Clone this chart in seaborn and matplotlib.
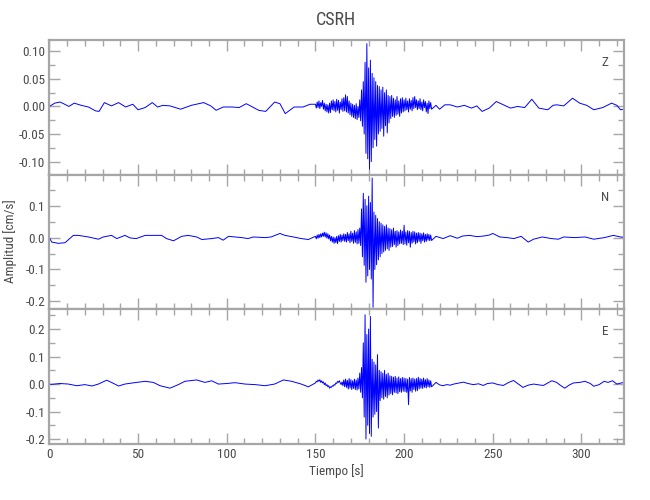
import numpy as np
import pandas as pd
import matplotlib
matplotlib.use("Agg")
import matplotlib.pyplot as plt
import seaborn as sns
from matplotlib.ticker import MultipleLocator
from matplotlib import font_manager

sns.set_style("white")
_names = {f.name for f in font_manager.fontManager.ttflist}
_fam = [f for f in ['Liberation Sans Narrow', 'DejaVu Sans Condensed', 'Roboto Condensed'] if f in _names]
plt.rcParams['font.family'] = _fam + ['DejaVu Sans']

# ---------------- data ----------------
title = "CSRH"
components = ["Z", "N", "E"]
xlabel = "Tiempo [s]"
ylabel = "Amplitud [cm/s]"

# strong-motion section: samples every 0.5 s starting at 150 s
burst_start = 150.0
burst_step = 0.5

# Z component
z_pre_t = [0, 3, 6, 8, 11, 14, 18, 22, 26, 28, 31, 35, 39, 43, 47, 50, 54, 58, 61, 64, 68, 74, 80, 87, 91,
           94, 98, 103, 107, 111, 114, 118, 122, 127, 130, 133, 138, 143, 147]
z_pre_v = [0.000, 0.006, 0.008, 0.005, 0.000, 0.006, 0.002, -0.001, -0.008, -0.009, 0.007, 0.001, 0.007,
           -0.001, 0.004, -0.006, -0.002, 0.007, -0.001, 0.002, 0.001, -0.005, 0.002, 0.007, 0.001,
           -0.007, -0.001, -0.001, -0.002, 0.005, 0.000, -0.007, -0.009, 0.008, 0.005, -0.013, -0.001,
           -0.001, 0.004]
z_burst = [0.004, -0.003, 0.008, -0.002, 0.010, -0.004, 0.007, 0.000, 0.011, -0.005, 0.006, -0.008, 0.004, -0.010, 0.003, -0.012,
           0.006, -0.011, 0.010, -0.006, 0.012, -0.008, 0.009, -0.010, 0.013, -0.007, 0.011, -0.012, 0.008, -0.006, 0.014, -0.009,
           0.016, -0.008, 0.021, -0.010, 0.018, -0.012, 0.010, -0.015, 0.006, -0.018, 0.004, -0.020,
           0.002, -0.022, 0.005, -0.024, 0.000, -0.020, 0.012, -0.026,
           0.030, -0.036, 0.045, -0.050,
           0.080, -0.085, 0.114, -0.095, 0.070, -0.114, 0.084, -0.100,
           0.060, -0.075, 0.052, -0.060, 0.045, -0.072, 0.038, -0.050,
           0.036, -0.045, 0.030, -0.040, 0.035, -0.054, 0.025, -0.035, 0.030, -0.048, 0.020, -0.030,
           0.018, -0.022, 0.020, -0.018, 0.015, -0.020, 0.012, -0.016, 0.018, -0.014, 0.010, -0.018, 0.014, -0.012, 0.016, -0.010,
           0.012, -0.008, 0.015, -0.006, 0.010, -0.010, 0.014, -0.005, 0.011, -0.008, 0.016, -0.004, 0.018, -0.002, 0.012, -0.006,
           0.010, -0.004, 0.014, -0.006, 0.008, -0.008, 0.012, -0.002, 0.009, -0.010, 0.006, -0.013, 0.010, -0.004, 0.007, -0.005]
z_post_t = [218, 220, 223, 226, 230, 234, 238, 241, 244, 248, 252, 256, 260, 264, 268, 272, 276, 281, 284,
            286, 290, 295, 299, 303, 307, 312, 317, 320, 322, 324]
z_post_v = [0.002, -0.005, 0.003, 0.003, -0.001, 0.002, -0.003, 0.001, -0.009, -0.003, 0.009, 0.003, -0.003,
            0.000, -0.002, 0.013, -0.003, -0.006, 0.002, 0.003, 0.001, 0.015, 0.006, 0.002, -0.006, -0.002,
            0.006, 0.002, -0.006, -0.005]

# N component
n_pre_t = [0, 1.3, 5, 8.8, 13.5, 16.3, 22, 27.6, 30.4, 35, 38, 42.6, 45.5, 49, 54, 57.7, 63.3, 66, 70, 74.6,
           78.3, 83, 86, 91.5, 95.3, 98, 101, 104.7, 108.4, 112, 115, 121.6, 125, 130, 132.8, 137.6, 142, 146]
n_pre_v = [0.000, -0.014, -0.018, -0.016, 0.007, 0.007, 0.002, -0.005, 0.002, 0.007, -0.003, 0.007, -0.001,
           -0.003, 0.007, 0.007, 0.007, -0.003, -0.010, 0.004, 0.007, 0.002, -0.006, -0.003, 0.000, -0.008,
           0.004, 0.002, 0.000, -0.003, 0.002, 0.000, 0.002, 0.013, 0.007, 0.002, -0.003, -0.006]
n_burst = [0.004, -0.004, 0.008, -0.002, 0.010, 0.000, 0.012, 0.002, 0.014, 0.004, 0.017, 0.002, 0.015, -0.002, 0.012, -0.004,
           0.008, -0.010, 0.004, -0.014, 0.002, -0.018, 0.000, -0.016, 0.004, -0.019, 0.006, -0.012, 0.010, -0.014, 0.008, -0.010,
           0.012, -0.012, 0.010, -0.014, 0.016, -0.010, 0.012, -0.016, 0.020, -0.012, 0.014, -0.018,
           0.022, -0.015, 0.018, -0.020, 0.025, -0.018, 0.030, -0.025,
           0.090, -0.060, 0.139, -0.087,
           0.120, -0.140, 0.100, -0.120, 0.130, -0.100, 0.110, -0.130,
           0.187, -0.219, 0.080, -0.100, 0.070, -0.085, 0.060, -0.070,
           0.050, -0.060, 0.045, -0.050, 0.040, -0.045, 0.035, -0.040, 0.040, -0.035, 0.030, -0.040,
           0.028, -0.030, 0.025, -0.028, 0.030, -0.022, 0.020, -0.030, 0.022, -0.025, 0.018, -0.020, 0.024, -0.018, 0.020, -0.022,
           0.039, -0.020, 0.018, -0.024, 0.022, -0.016, 0.020, -0.030, 0.016, -0.018, 0.020, -0.014, 0.018, -0.020, 0.014, -0.016,
           0.016, -0.012, 0.014, -0.018, 0.012, -0.010, 0.015, -0.014, 0.010, -0.012, 0.012, -0.008, 0.010, -0.010, 0.008, -0.009]
n_post_t = [218, 222, 226, 230, 233, 237, 241, 245, 248, 250, 254, 258, 262, 266, 270, 273, 278, 283, 287,
            290, 296, 302, 307, 313, 318, 322, 324]
n_post_v = [0.004, -0.003, 0.006, -0.002, 0.005, 0.007, 0.003, 0.005, 0.008, 0.013, 0.002, 0.000, -0.003,
            0.004, -0.014, -0.005, 0.002, -0.003, -0.005, 0.002, 0.000, 0.002, -0.005, 0.000, 0.007, 0.002, 0.001]

# E component
e_pre_t = [0, 1.3, 6, 10.7, 15.4, 20, 24, 27.6, 32.3, 35, 39, 42.6, 48, 54, 58.6, 62.4, 68, 72.7, 76.4, 83,
           87.7, 91.5, 95.3, 100, 104.7, 110.3, 116, 121.6, 127, 132, 136.6, 142, 146]
e_pre_v = [0.000, -0.001, 0.002, 0.000, -0.006, -0.002, -0.007, 0.000, 0.014, 0.006, -0.007, 0.000, 0.005,
           0.010, 0.006, -0.006, -0.015, -0.002, 0.010, 0.015, 0.006, 0.012, 0.000, 0.002, 0.005, 0.000,
           -0.002, -0.006, 0.000, 0.015, 0.010, 0.000, -0.010]
e_burst = [0.004, 0.010, 0.008, 0.015, 0.010, 0.016, 0.006, 0.012, 0.004, 0.008, -0.002, 0.004, -0.006, -0.002, -0.010, -0.006,
           -0.015, -0.010, -0.012, -0.006, -0.008, -0.002, -0.004, 0.004, 0.002, 0.010, 0.006, 0.012, 0.004, -0.002, 0.008, -0.006,
           0.015, -0.010, 0.018, -0.012, 0.014, -0.018, 0.020, -0.015, 0.016, -0.020, 0.012, -0.016,
           0.018, -0.020, 0.015, -0.022, 0.022, -0.018, 0.040, -0.030,
           0.060, -0.050, 0.150, -0.120,
           0.252, -0.200, 0.180, -0.150, 0.200, -0.180, 0.246, -0.190,
           0.090, -0.120, 0.080, -0.110, 0.070, -0.100, 0.107, -0.160,
           0.050, -0.060, 0.045, -0.050, 0.040, -0.055, 0.050, -0.045, 0.035, -0.050, 0.040, -0.040,
           0.030, -0.035, 0.028, -0.039, 0.025, -0.030, 0.028, -0.032, 0.022, -0.035, 0.026, -0.028, 0.020, -0.030, 0.024, -0.026,
           0.022, -0.028, 0.020, -0.030, 0.018, -0.075, 0.024, -0.025, 0.020, -0.030, 0.022, -0.020, 0.018, -0.026, 0.020, -0.024,
           0.025, -0.018, 0.020, -0.015, 0.018, -0.016, 0.022, -0.012, 0.016, -0.014, 0.020, -0.010, 0.015, -0.012, 0.012, -0.010]
e_post_t = [218, 220, 222, 224, 226, 228, 231, 233.5, 236, 239, 242, 244.6, 247, 250, 253, 256, 259, 261.7,
            264, 267, 270, 273, 276, 278.6, 281, 283.3, 286, 288, 290.6, 293, 295.5, 299, 302, 305, 307, 310,
            312.8, 315, 317.5, 320, 323, 324]
e_post_v = [0.006, -0.003, -0.006, -0.002, -0.004, 0.000, 0.004, 0.007, 0.002, -0.002, 0.001, -0.005, 0.002,
            0.004, -0.002, -0.005, 0.006, 0.013, 0.002, -0.012, -0.004, 0.000, -0.003, -0.005, 0.004, 0.012,
            0.006, -0.004, -0.015, -0.004, 0.004, 0.006, 0.010, 0.002, -0.008, -0.002, 0.010, 0.006, 0.012,
            0.000, 0.005, 0.004]

# ---------------- build traces ----------------
def trace(pre_t, pre_v, burst, post_t, post_v, comp):
    bt = burst_start + burst_step * np.arange(len(burst))
    t = np.concatenate([pre_t, bt, post_t])
    v = np.concatenate([pre_v, burst, post_v])
    return pd.DataFrame({"t": t, "v": v, "comp": comp})

df = pd.concat([
    trace(z_pre_t, z_pre_v, z_burst, z_post_t, z_post_v, "Z"),
    trace(n_pre_t, n_pre_v, n_burst, n_post_t, n_post_v, "N"),
    trace(e_pre_t, e_pre_v, e_burst, e_post_t, e_post_v, "E"),
])

# ---------------- figure ----------------
fig = plt.figure(figsize=(6.5, 5.0), dpi=100)
W, H = 650.0, 500.0
left_px, right_px = 49.4, 624.0
bounds_px = [(40.0, 174.5), (174.5, 309.0), (309.0, 444.0)]
ylims = [(-0.1235, 0.1206), (-0.224, 0.198), (-0.218, 0.273)]
ymajor = [0.05, 0.1, 0.1]
yminor = [0.025, 0.05, 0.05]
yfmt = ["%.2f", "%.1f", "%.1f"]
label_y = [0.836, 0.83, 0.83]

spine_c = "#a6a6a6"
text_c = "#4a4a4a"
fs = 9.5

axes = []
for i, comp in enumerate(components):
    top, bot = bounds_px[i]
    ax = fig.add_axes([left_px / W, 1 - bot / H, (right_px - left_px) / W, (bot - top) / H])
    sub = df[df["comp"] == comp]
    sns.lineplot(data=sub, x="t", y="v", ax=ax, color="#0000ff", lw=0.7,
                 estimator=None, sort=False)
    ax.set_xlim(0, 324)
    ax.set_ylim(*ylims[i])
    ax.xaxis.set_major_locator(MultipleLocator(50))
    ax.xaxis.set_minor_locator(MultipleLocator(10))
    ax.yaxis.set_major_locator(MultipleLocator(ymajor[i]))
    ax.yaxis.set_minor_locator(MultipleLocator(yminor[i]))
    ax.yaxis.set_major_formatter(matplotlib.ticker.FormatStrFormatter(yfmt[i]))
    ax.tick_params(which="both", direction="in", top=True, right=True, left=True, bottom=True,
                   color=spine_c, width=1.0, labelcolor=text_c, labelsize=fs, pad=3)
    ax.tick_params(which="major", length=8)
    ax.tick_params(which="minor", length=4)
    for s in ax.spines.values():
        s.set_color(spine_c)
        s.set_linewidth(1.6)
    ax.set_xlabel("")
    ax.set_ylabel("")
    if i < 2:
        ax.tick_params(labelbottom=False)
    ax.text(0.967, label_y[i], comp, transform=ax.transAxes, ha="center", va="center",
            color=text_c, fontsize=fs)
    axes.append(ax)

axes[2].set_xlabel(xlabel, color=text_c, fontsize=fs, labelpad=2)
fig.text(10 / W, 1 - 241 / H, ylabel, rotation=90, ha="center", va="center", color=text_c, fontsize=fs)
fig.text(336 / W, 1 - 20 / H, title, ha="center", va="center", color=text_c, fontsize=13)

fig.savefig("out.png", dpi=100)
